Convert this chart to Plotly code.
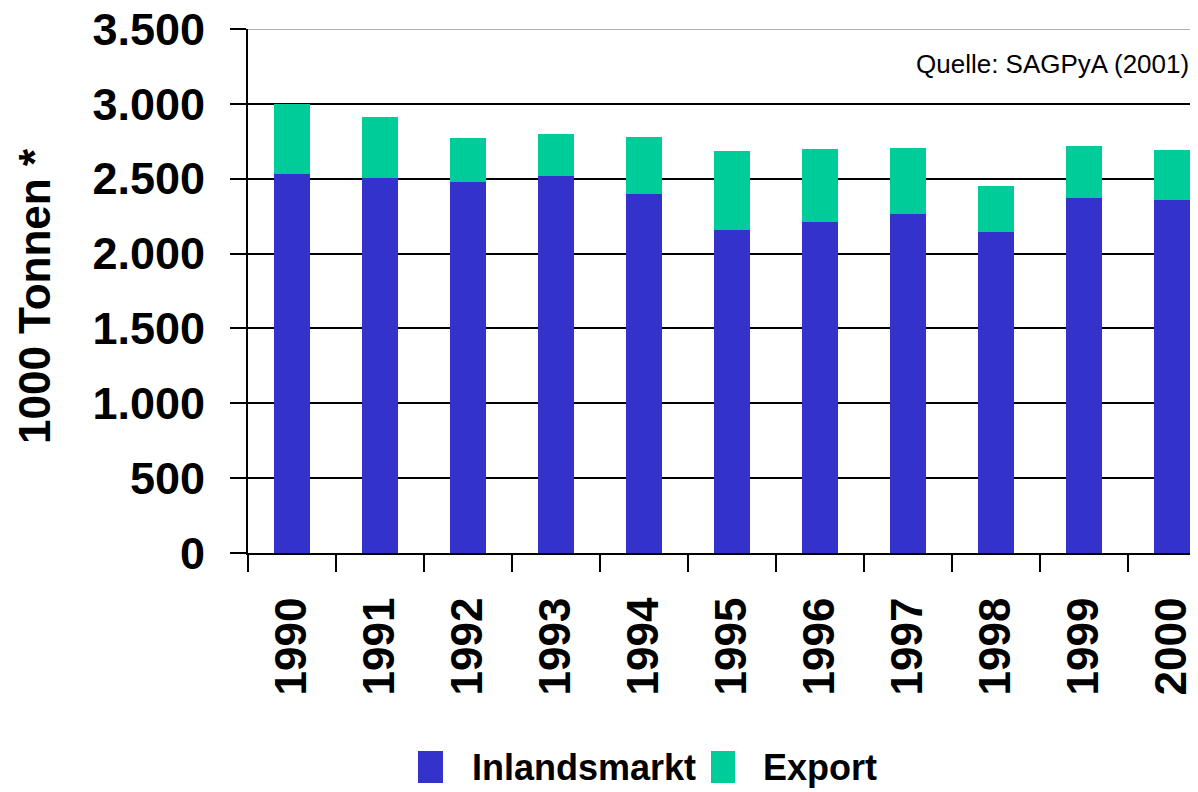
import plotly.graph_objects as go

years = ["1990", "1991", "1992", "1993", "1994", "1995", "1996", "1997", "1998", "1999", "2000"]
inlandsmarkt = [2530, 2505, 2480, 2520, 2400, 2160, 2210, 2265, 2145, 2370, 2360]
export = [470, 405, 290, 280, 380, 525, 490, 440, 305, 350, 330]
y_tickvals = [0, 500, 1000, 1500, 2000, 2500, 3000, 3500]
y_ticktext = ["0", "500", "1.000", "1.500", "2.000", "2.500", "3.000", "3.500"]

FONT = "Liberation Sans, Arial, sans-serif"
BLUE = "#3333CC"
GREEN = "#00CC99"

fig = go.Figure()
fig.add_trace(go.Bar(x=years, y=inlandsmarkt, name="Inlandsmarkt",
                     marker=dict(color=BLUE, line=dict(width=0))))
fig.add_trace(go.Bar(x=years, y=export, name="Export",
                     marker=dict(color=GREEN, line=dict(width=0))))

OFF = 8  # browser body margin
W, H = 1190, 784
L, T, B = 240, 21, 239
plot_w = W - L
plot_h = H - T - B

def px_x(p):
    return (p - OFF - L) / plot_w

def px_y(p):
    return (H - B - (p - OFF)) / plot_h

fig.update_layout(
    width=W, height=H,
    margin=dict(l=L, r=0, t=T, b=B, pad=0, autoexpand=False),
    barmode="stack",
    bargap=0.59,
    plot_bgcolor="white",
    paper_bgcolor="white",
    showlegend=False,
    font=dict(family=FONT, color="black"),
)

fig.update_xaxes(
    type="category",
    range=[-0.5, 10.295],
    automargin=False,
    showline=True, linecolor="black", linewidth=2,
    ticks="outside", tickson="boundaries", ticklen=17, tickwidth=2, tickcolor="black",
    tickangle=-90,
    tickfont=dict(family=FONT, size=44, color="black", weight="bold"),
    ticklabelstandoff=25,
    ticklabeloverflow="allow",
    showgrid=False,
    zeroline=False,
)

fig.update_yaxes(
    range=[0, 3500],
    automargin=False,
    tickvals=y_tickvals, ticktext=y_ticktext,
    showline=True, linecolor="black", linewidth=2,
    ticks="outside", ticklen=16, tickwidth=2, tickcolor="black",
    tickfont=dict(family=FONT, size=45, color="black", weight="bold"),
    ticklabelstandoff=16,
    ticklabeloverflow="allow",
    showgrid=True, gridcolor="black", gridwidth=2,
    zeroline=False,
)

shapes = [
    dict(type="line", xref="paper", yref="y", x0=0, x1=1, y0=3500, y1=3500,
         line=dict(color="#b0b0b0", width=2), layer="above"),
    dict(type="rect", xref="paper", yref="paper",
         x0=px_x(418), x1=px_x(443), y0=px_y(783), y1=px_y(751),
         fillcolor=BLUE, line=dict(width=0)),
    dict(type="rect", xref="paper", yref="paper",
         x0=px_x(711), x1=px_x(735), y0=px_y(783), y1=px_y(751),
         fillcolor=GREEN, line=dict(width=0)),
]

annotations = [
    dict(text="1000 Tonnen *", xref="paper", yref="paper", x=px_x(34), y=px_y(296),
         xanchor="center", yanchor="middle", textangle=-90, showarrow=False,
         font=dict(family=FONT, size=44, color="black", weight="bold")),
    dict(text="Quelle: SAGPyA (2001)", xref="paper", yref="paper", x=px_x(1191), y=px_y(64),
         xanchor="right", yanchor="middle", showarrow=False,
         font=dict(family=FONT, size=26, color="black")),
    dict(text="Inlandsmarkt", xref="paper", yref="paper", x=px_x(470), y=px_y(767),
         xanchor="left", yanchor="middle", showarrow=False,
         font=dict(family=FONT, size=36, color="black", weight="bold")),
    dict(text="Export", xref="paper", yref="paper", x=px_x(761), y=px_y(767),
         xanchor="left", yanchor="middle", showarrow=False,
         font=dict(family=FONT, size=36, color="black", weight="bold")),
]

fig.update_layout(shapes=shapes, annotations=annotations)

fig.write_html("out.html")
